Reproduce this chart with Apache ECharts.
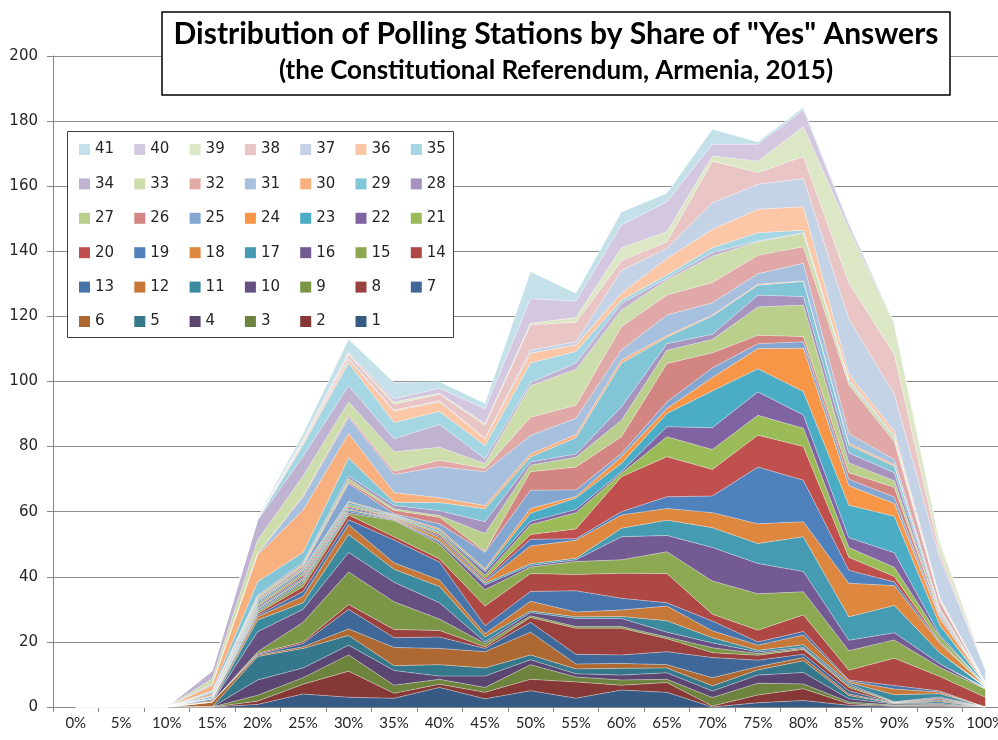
<!DOCTYPE html>
<html>
<head>
<meta charset="utf-8">
<title>Distribution of Polling Stations by Share of "Yes" Answers</title>
<script src="https://cdn.jsdelivr.net/npm/echarts@6/dist/echarts.min.js"></script>
<style>
  html, body { margin: 0; padding: 0; background: #fff; }
  #chart { width: 998px; height: 740px; }
</style>
</head>
<body>
<div id="chart"></div>
<script>
// share of "Yes" answers (x axis)
const categories = ['0%', '5%', '10%', '15%', '20%', '25%', '30%', '35%', '40%', '45%', '50%',
  '55%', '60%', '65%', '70%', '75%', '80%', '85%', '90%', '95%', '100%'];

// number of polling stations, one array per series (1 = bottom of the stack)
const s1 = [0, 0, 0, 0, 0.8, 4, 3, 2.7, 6, 2.5, 5, 2.7, 5.2, 4.5, 0, 1.3, 2, 0.5, 0.2, 0.2, 0];
const s2 = [0, 0, 0, 0, 1, 3, 8, 1.5, 1, 2, 3.5, 5, 1.5, 3, 0.3, 2.4, 3.6, 0.5, 0.2, 0.3, 0];
const s3 = [0, 0, 0, 0, 1.8, 2, 5, 2.5, 1.5, 1.5, 4.5, 1.5, 1.6, 1, 2.6, 3.6, 1.5, 0.5, 0.2, 0.3, 0];
const s4 = [0, 0, 0, 0, 4.7, 3, 3, 4.5, 1, 3.5, 1.5, 1, 1.5, 2, 2, 2.5, 3.5, 1, 0.3, 0.3, 0];
const s5 = [0, 0, 0, 0, 7.2, 6, 3, 1.5, 3.5, 2.5, 1.5, 1.5, 2.1, 1.5, 1.6, 1.6, 3.6, 1, 0.2, 0.5, 0];
const s6 = [0, 0, 0, 1.5, 0.4, 0.5, 2, 5.6, 5, 5, 7, 1.5, 1.5, 1, 2.5, 1, 1, 0.5, 0.1, 0.3, 0];
const s7 = [0, 0, 0, 0, 0.3, 1, 6, 3, 3.5, 1, 3, 3, 2.6, 4, 6.2, 2, 1, 1, 0.1, 0.3, 0];
const s8 = [0, 0, 0, 0, 0.3, 0.5, 1.5, 2.5, 2, 0.5, 1.5, 8, 8.2, 4, 1.5, 1.5, 1.5, 1, 0.1, 0.3, 0];
const s9 = [0, 0, 0, 0, 0.5, 6, 10, 8.5, 3.5, 1, 0.5, 0.5, 0.5, 0.5, 1.5, 0.5, 0.3, 0.5, 0.1, 0.3, 0];
const s10 = [0, 0, 0, 0, 6.1, 4, 6, 6, 5, 0.5, 1, 2.5, 2.5, 1.5, 1.5, 0.5, 0.3, 0.5, 0.1, 0.3, 0];
const s11 = [0, 0, 0, 0, 3.6, 2, 5.5, 4, 5, 1.5, 0.5, 0.5, 0.6, 3.5, 1.6, 0.5, 0.8, 0.5, 2.2, 1, 0];
const s12 = [0, 0, 0, 0.5, 1, 2, 3, 2, 2, 1, 3, 1.5, 2, 4.5, 2.1, 1.6, 3, 0.5, 1.7, 0.5, 0];
const s13 = [0, 0, 0, 0.5, 0.5, 1.5, 1.5, 7, 5.5, 2.5, 3, 6.5, 3.6, 1, 3, 1, 1.1, 0.3, 1.1, 0.3, 0];
const s14 = [0, 0, 0, 0, 0.5, 1.5, 1.5, 1, 1, 6, 5.5, 5, 7.7, 9, 2.1, 3.6, 5.1, 3, 8.4, 4.5, 3];
const s15 = [0, 0, 0, 0, 0.5, 1, 0.5, 5, 4.5, 5, 2, 4, 4.1, 6.7, 10.2, 11.2, 7.1, 6, 5.6, 2.8, 2.5];
const s16 = [0, 0, 0, 0, 0.3, 0.5, 0.5, 0.2, 0.5, 1.5, 0.5, 0.5, 7.1, 5, 10.3, 9.3, 6.2, 3.2, 2.2, 1.1, 0];
const s17 = [0, 0, 0, 0.3, 0.5, 0.5, 0.5, 0.2, 0.5, 0.5, 0.5, 0.5, 2.6, 4.7, 6.1, 6.1, 10.7, 7.2, 8.4, 3.4, 0.5];
const s18 = [0, 0, 0, 0, 0.3, 0.5, 0.3, 0.2, 1, 0.5, 5.5, 5.5, 4.1, 3.6, 4.6, 6.1, 4.6, 10.3, 6.1, 2.8, 0.5];
const s19 = [0, 0, 0, 0.5, 0.5, 0.5, 0.5, 0.2, 0.5, 0.5, 2, 0.5, 1, 3.6, 5.1, 17.4, 12.8, 4, 1.1, 0.3, 0];
const s20 = [0, 0, 0, 0, 0.3, 0.5, 0.3, 0.2, 0.5, 0.5, 1.5, 3, 10.7, 12.3, 8.2, 9.8, 10.3, 4, 1.7, 0.3, 0];
const s21 = [0, 0, 0, 0, 0.5, 0.5, 0.5, 0.2, 0.5, 1, 3, 5, 1.1, 6.1, 6.1, 6.1, 5.6, 3, 2.8, 1.5, 0];
const s22 = [0, 0, 0, 0, 0.3, 0.5, 0.3, 0.2, 0.3, 1, 1, 1, 0.5, 3.1, 6.7, 7.2, 4.1, 3, 4.5, 0.5, 0];
const s23 = [0, 0, 0, 0.3, 0.5, 0.5, 0.5, 0.2, 0.5, 0.5, 2.5, 3.5, 2.5, 4.1, 11.3, 7.1, 7.2, 10, 11.2, 3, 0.5];
const s24 = [0, 0, 0, 0.5, 0.3, 0.5, 0.3, 0.2, 0.5, 0.5, 1.5, 0.5, 2.1, 1.5, 4.1, 6.2, 13.3, 6, 3.9, 2, 0.5];
const s25 = [0, 0, 0, 0.5, 0.5, 0.5, 5.5, 0.3, 1.5, 5, 5.6, 2, 1, 2, 3, 1.5, 2, 2, 2, 0.5, 0];
const s26 = [0, 0, 0, 0, 0.3, 0.5, 0.5, 1, 2, 0.3, 5.7, 7, 5.1, 11.8, 4.6, 2.6, 1.6, 2, 3, 0.5, 0];
const s27 = [0, 0, 0, 0, 0.5, 0.5, 1, 0.5, 0.5, 5.5, 2, 3, 5.1, 4.1, 4.1, 8.7, 9.7, 3, 2, 0.5, 0];
const s28 = [0, 0, 0, 0, 0.4, 0.5, 0.8, 1, 1.5, 3.6, 1, 1, 4.1, 2, 1.6, 3.6, 2.6, 3, 2.5, 0.5, 0];
const s29 = [0, 0, 0, 0.5, 4.1, 3, 5.5, 1, 2.5, 4, 1.5, 5, 13.4, 2, 5.6, 3.1, 4.6, 2.5, 2, 0.5, 0];
const s30 = [0, 0, 0, 1.5, 8.2, 13, 7.5, 3, 1.5, 1, 1, 1, 1, 0.5, 0.3, 0.3, 0.2, 0.5, 0.5, 0.3, 0];
const s31 = [0, 0, 0, 0.5, 0.3, 4, 5, 5.5, 9.5, 10.4, 5.6, 5, 3.1, 6.3, 3.8, 3.2, 5.4, 3, 1.5, 0.5, 0];
const s32 = [0, 0, 0, 0, 0.2, 0.5, 0.7, 1, 2, 1, 5.6, 4, 7.1, 6.2, 6.2, 5.7, 5.1, 15, 5.5, 2, 0];
const s33 = [0, 0, 0, 1.5, 4.1, 6, 4, 6, 4, 1.5, 9.7, 11, 5.1, 4.6, 8.1, 4.1, 4.1, 1, 1.2, 0.3, 0];
const s34 = [0, 0, 0, 2.5, 6, 6, 5, 4, 7, 1.5, 1, 2, 2.1, 0.5, 1.1, 0.3, 0.2, 0.3, 0.3, 0.2, 0];
const s35 = [0, 0, 0, 0, 0.2, 3.5, 7, 5, 4, 4, 6, 3.5, 1, 1, 1.5, 2.5, 0.8, 0.5, 0.5, 0.3, 0];
const s36 = [0, 0, 0, 0, 0.1, 0.5, 1, 3.5, 3, 2, 3, 2, 2.1, 5.1, 5.6, 7.2, 7.2, 1.5, 1.3, 0.5, 0];
const s37 = [0, 0, 0, 0, 0.1, 0.3, 0.5, 0.3, 0.3, 0.3, 1, 1, 7, 3.1, 8.2, 7.7, 8.7, 17, 11.2, 12, 4];
const s38 = [0, 0, 0, 0, 0.1, 0.5, 1, 1.8, 2, 4, 7.7, 6, 3, 2, 12.8, 3.6, 6.7, 11, 12.3, 1.5, 0];
const s39 = [0, 0, 0, 0, 0.1, 0.2, 0.3, 0.7, 0.3, 0.5, 0.5, 1.5, 4, 3.1, 1.6, 3.5, 9.2, 16.5, 9.2, 3, 0.5];
const s40 = [0, 0, 0, 0, 0.1, 0.5, 0.5, 1, 1.5, 4.5, 7.5, 5, 7, 9.2, 3.6, 5.2, 5.1, 1.5, 0.3, 0.5, 0];
const s41 = [0, 0, 0, 0.3, 0.3, 1.5, 4, 5, 2, 1.7, 8.3, 2.4, 4, 2.6, 4.6, 0.7, 0.8, 0.5, 0.2, 0.3, 0];

const seriesValues = [s1, s2, s3, s4, s5, s6, s7, s8, s9, s10, s11, s12, s13, s14, s15, s16, s17,
  s18, s19, s20, s21, s22, s23, s24, s25, s26, s27, s28, s29, s30, s31, s32, s33, s34, s35, s36,
  s37, s38, s39, s40, s41];

// y axis ticks: 0..200 by 20
const yMin = 0;
const yMax = 200;
const yStep = 20;

// office-like palette: six hues, darker shades first, then lighter tints
const colors = [
  '#375a84', '#863836', '#6d833e', '#5a4671', '#35788b', '#ad6931',
  '#3f6797', '#9a403e', '#7c9647', '#665082', '#3c8a9e', '#c67838',
  '#4774aa', '#ad4845', '#8ca850', '#735a92', '#449bb2', '#de873f',
  '#4f81bd', '#c0504d', '#9bbb59', '#8064a2', '#4bacc6', '#f79646',
  '#84a7d1', '#d38582', '#b9cf8b', '#a693be', '#81c5d7', '#f9b07f',
  '#a7c0de', '#e0a8a6', '#cdddac', '#c0b2d1', '#a5d6e3', '#fbc7a6',
  '#c5d3e6', '#e9c6c5', '#dce7c6', '#d3c8df', '#c4e1ea'
];

const chart = echarts.init(document.getElementById('chart'));

// legend laid out as a 7 x 6 grid, 41 first
const legends = [];
for (let i = 0; i < seriesValues.length; i++) {
  const row = Math.floor(i / 7);
  const col = i % 7;
  legends.push({
    data: [String(seriesValues.length - i)],
    left: 79 + col * 55.3,
    top: 142 + row * 34.4,
    padding: 0,
    itemWidth: 11,
    itemHeight: 11,
    icon: 'rect',
    selectedMode: false,
    itemStyle: { borderWidth: 0 },
    textStyle: { fontFamily: 'DejaVu Sans', fontSize: 15, color: '#262626' }
  });
}

const option = {
  animation: false,
  color: colors,
  grid: {
    left: 53, right: -10, top: 56, bottom: 33,
    containLabel: false,
    outerBoundsMode: 'none'
  },
  legend: legends,
  xAxis: {
    type: 'category',
    data: categories,
    boundaryGap: true,
    z: 3,
    axisLine: { lineStyle: { color: '#868686' } },
    axisTick: { show: true, interval: 0, length: 5, lineStyle: { color: '#868686' } },
    axisLabel: { interval: 0, margin: 9, fontFamily: 'Lato', fontSize: 15, color: '#262626' },
    splitLine: { show: false }
  },
  yAxis: {
    type: 'value',
    min: yMin,
    max: yMax,
    interval: yStep,
    axisLine: { show: true, lineStyle: { color: '#868686' } },
    axisTick: { show: true, length: 6, lineStyle: { color: '#868686' } },
    axisLabel: { margin: 15, fontFamily: 'DejaVu Sans', fontSize: 15, color: '#262626' },
    splitLine: { lineStyle: { color: '#8c8c8c', width: 1 } }
  },
  graphic: [
    // legend frame
    {
      type: 'rect', z: 3,
      shape: { x: 67.5, y: 131.5, width: 386, height: 206 },
      style: { fill: '#fff', stroke: '#404040', lineWidth: 1 }
    },
    // title frame and text
    {
      type: 'rect', z: 10,
      shape: { x: 162, y: 12, width: 788, height: 83 },
      style: { fill: '#fff', stroke: '#000', lineWidth: 1.5 }
    },
    {
      type: 'text', z: 11, x: 556, y: 34,
      style: {
        text: 'Distribution of Polling Stations by Share of "Yes" Answers',
        font: 'bold 30px Lato', fill: '#000',
        textAlign: 'center', textVerticalAlign: 'middle'
      }
    },
    {
      type: 'text', z: 11, x: 556, y: 71,
      style: {
        text: '(the Constitutional Referendum, Armenia, 2015)',
        font: 'bold 26px Lato', fill: '#000',
        textAlign: 'center', textVerticalAlign: 'middle'
      }
    }
  ],
  series: seriesValues.map((vals, i) => ({
    name: String(i + 1),
    type: 'line',
    stack: 'total',
    data: vals,
    symbol: 'none',
    showSymbol: false,
    lineStyle: { width: 0.8, color: 'rgba(255,255,255,0.45)' },
    areaStyle: { color: colors[i], opacity: 1 },
    itemStyle: { color: colors[i] },
    emphasis: { disabled: true }
  }))
};

chart.setOption(option);
</script>
</body>
</html>
